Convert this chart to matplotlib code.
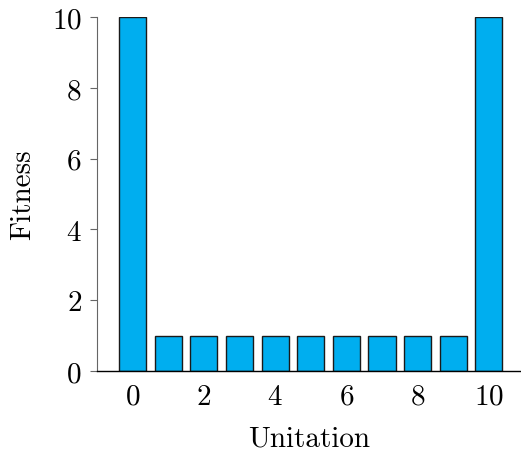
import numpy as np
import matplotlib
matplotlib.use("Agg")
import matplotlib.pyplot as plt

# data
unitation = list(range(11))
fitness = [10, 1, 1, 1, 1, 1, 1, 1, 1, 1, 10]
y_ticks = [0, 2, 4, 6, 8, 10]
x_ticks = [0, 2, 4, 6, 8, 10]

plt.rcParams['font.family'] = ['cmr10', 'DejaVu Serif']
plt.rcParams['axes.formatter.use_mathtext'] = True

fig = plt.figure(figsize=(5.21, 4.52), dpi=100)
ax = fig.add_axes([0.186, 0.177, 0.814, 0.783])

ax.bar(unitation, fitness, width=0.76, color='#00AEEF',
       edgecolor='#1a1a1a', linewidth=1.0, zorder=2)

ax.set_xlim(-1.0, 10.9)
ax.set_ylim(0, 10)
ax.set_xticks(x_ticks)
ax.set_yticks(y_ticks)

ax.spines['top'].set_visible(False)
ax.spines['right'].set_visible(False)
ax.spines['left'].set_color('#666666')
ax.spines['left'].set_linewidth(0.8)
ax.spines['bottom'].set_color('black')
ax.spines['bottom'].set_linewidth(1.0)

ax.tick_params(axis='y', direction='out', length=5, width=0.8,
               color='#666666', labelsize=21, pad=6)
ax.tick_params(axis='x', length=0, labelsize=21, pad=9)

ax.set_xlabel('Unitation', fontsize=21, labelpad=11)
ax.set_ylabel('Fitness', fontsize=21, labelpad=11)

fig.savefig('out.png', dpi=100)
